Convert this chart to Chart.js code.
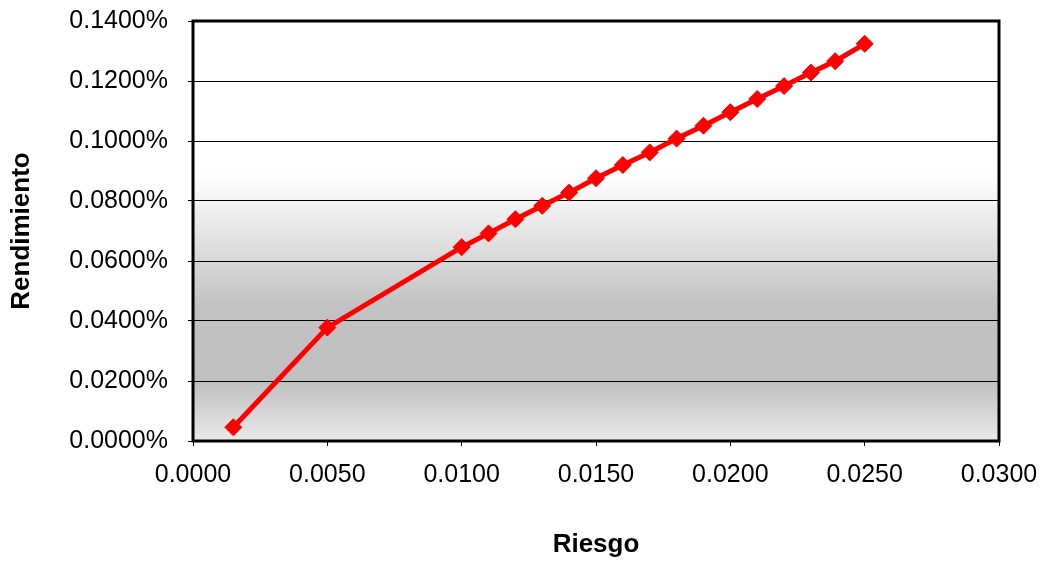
<!DOCTYPE html>
<html>
<head>
<meta charset="utf-8">
<script src="https://cdn.jsdelivr.net/npm/chart.js@4.4.1/dist/chart.umd.min.js"></script>
<style>
  html, body { margin: 0; padding: 0; background: #fff; }
  #wrap { width: 1044px; height: 561px; position: relative; }
</style>
</head>
<body>
<div id="wrap"><canvas id="chart"></canvas></div>
<script>
// risk (x) and return (y, as fraction)
const riesgo = [0.0015, 0.0050, 0.0100, 0.0110, 0.0120, 0.0130, 0.0140, 0.0150, 0.0160,
                0.0170, 0.0180, 0.0190, 0.0200, 0.0210, 0.0220, 0.0230, 0.0239, 0.0250];
const rendimiento = [0.0000457, 0.000378, 0.000646, 0.000692, 0.000739, 0.000784, 0.000828,
                     0.000876, 0.000920, 0.000962, 0.001008, 0.001051, 0.001096, 0.001140,
                     0.001183, 0.001228, 0.001266, 0.001324];

const xMin = 0, xMax = 0.03, xStep = 0.005;
const yMin = 0, yMax = 0.0014, yStep = 0.0002;

const points = riesgo.map((x, i) => ({ x: x, y: rendimiento[i] }));

// gray excel-like gradient behind the plot + thick frame
const plotArea = {
    id: 'plotArea',
    beforeDraw(chart) {
        const { ctx, chartArea: a } = chart;
        const g = ctx.createLinearGradient(0, a.top, 0, a.bottom);
        g.addColorStop(0, '#ffffff');
        g.addColorStop(0.36, '#ffffff');
        g.addColorStop(0.43, '#f3f3f3');
        g.addColorStop(0.68, '#c2c2c2');
        g.addColorStop(0.86, '#c0c0c0');
        g.addColorStop(1, '#e9e9e9');
        ctx.save();
        ctx.fillStyle = g;
        ctx.fillRect(a.left, a.top, a.right - a.left, a.bottom - a.top);
        ctx.restore();
    },
    beforeDatasetsDraw(chart) {
        const { ctx, chartArea: a } = chart;
        ctx.save();
        ctx.strokeStyle = '#000';
        ctx.lineWidth = 3;
        ctx.strokeRect(a.left, a.top, a.right - a.left, a.bottom - a.top);
        ctx.restore();
    }
};

const tickFont = { family: '"Liberation Sans", Arial, sans-serif', size: 25 };
const titleFont = { family: '"Liberation Sans", Arial, sans-serif', size: 26, weight: 'bold' };

new Chart(document.getElementById('chart'), {
    type: 'scatter',
    data: {
        datasets: [{
            data: points,
            showLine: true,
            borderColor: '#ff0000',
            borderWidth: 5,
            backgroundColor: '#ff0000',
            pointStyle: 'rectRot',
            pointRadius: 8.5,
            pointBorderWidth: 1,
            pointBorderColor: '#ff0000',
            pointBackgroundColor: '#ff0000'
        }]
    },
    options: {
        responsive: true,
        maintainAspectRatio: false,
        animation: false,
        layout: { padding: { top: 21, right: 45, left: 0, bottom: 0 } },
        plugins: {
            legend: { display: false },
            tooltip: { enabled: false }
        },
        scales: {
            x: {
                type: 'linear',
                min: xMin,
                max: xMax,
                ticks: {
                    stepSize: xStep,
                    color: '#000',
                    font: tickFont,
                    padding: 14,
                    maxRotation: 0,
                    callback: v => v.toFixed(4)
                },
                grid: { drawOnChartArea: false, color: '#000', tickLength: 5, lineWidth: 1 },
                border: { display: false },
                title: {
                    display: true,
                    text: 'Riesgo',
                    color: '#000',
                    font: titleFont,
                    padding: { top: 0, bottom: 1 }
                },
                afterFit(scale) {
                    scale.height = 120;
                    scale.paddingLeft = 0;
                    scale.paddingRight = 0;
                }
            },
            y: {
                type: 'linear',
                min: yMin,
                max: yMax,
                ticks: {
                    stepSize: yStep,
                    color: '#000',
                    font: tickFont,
                    padding: 20,
                    callback: v => (v * 100).toFixed(4) + '%'
                },
                grid: { color: '#000', tickLength: 5, lineWidth: 1 },
                border: { display: false },
                title: {
                    display: true,
                    text: 'Rendimiento',
                    color: '#000',
                    font: titleFont,
                    padding: { top: 6, bottom: 0 }
                },
                afterFit(scale) {
                    scale.width = 193;
                    scale.paddingTop = 0;
                    scale.paddingBottom = 0;
                }
            }
        }
    },
    plugins: [plotArea]
});
</script>
</body>
</html>
